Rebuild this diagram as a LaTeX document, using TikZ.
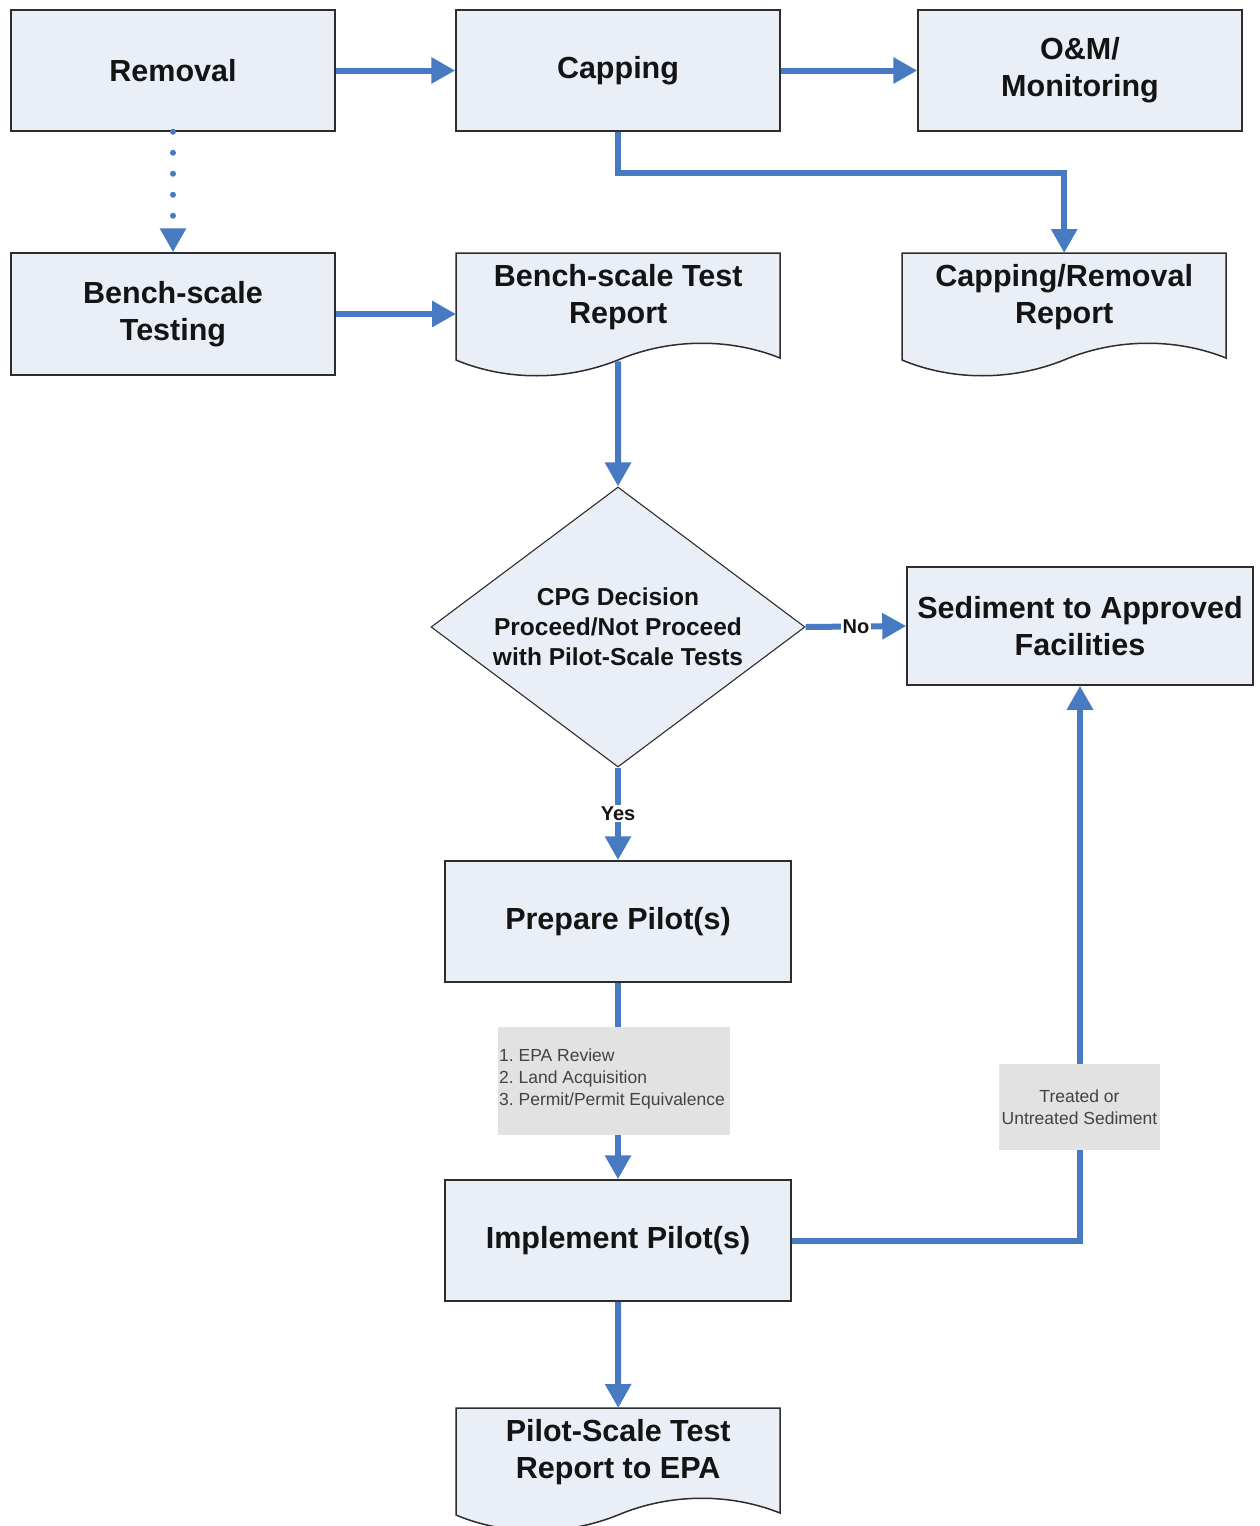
\documentclass[tikz,border=0pt]{standalone}
\usepackage{fontspec}
\setmainfont{Liberation Sans}
\usetikzlibrary{arrows.meta,shapes.geometric,backgrounds,calc}
\definecolor{boxfill}{RGB}{233,238,247}
\definecolor{boxline}{RGB}{45,45,45}
\definecolor{flow}{RGB}{72,122,194}
\definecolor{notefill}{RGB}{226,226,226}
\definecolor{txt}{RGB}{20,20,20}
\newcommand\mydocwave[1]{\path[draw=boxline, fill=boxfill, line width=1.5pt, shift={(#1.north west)}] (0,0) -- (324,0) -- (324,105) .. controls (274,85) and (214,85) .. (162,107) .. controls (110,128) and (50,128) .. (0,107) -- cycle;}
\begin{document}
\frenchspacing
\begin{tikzpicture}[x=1pt,y=-1pt,
  proc/.style={draw=boxline, fill=boxfill, line width=1.5pt, minimum width=324pt, minimum height=121pt, align=center, inner sep=0pt, text=txt, font=\bfseries\fontsize{30.5}{37}\selectfont},
  docnode/.style={minimum width=324pt, minimum height=88pt, align=center, inner sep=0pt, text=txt, anchor=north west, font=\bfseries\fontsize{30.5}{37}\selectfont},
  decision/.style={diamond, draw=boxline, fill=boxfill, line width=1.1pt, aspect=1.336, minimum width=374pt, minimum height=280pt, inner sep=0pt, align=center, text=txt, font=\bfseries\fontsize{24.5}{30}\selectfont},
  note/.style={fill=notefill, inner sep=0pt, text=txt!80, font=\fontsize{17.5}{22}\selectfont},
  flowline/.style={draw=flow, line width=6pt, -{Triangle[length=24pt,width=25pt]}},
  dotline/.style={draw=flow, line width=6pt, line cap=round, dash pattern=on 0pt off 21pt, -{Triangle[length=24pt,width=25pt]}},
  lbl/.style={fill=white, inner sep=1.5pt, text=txt, font=\bfseries\fontsize{20}{22}\selectfont}
]
\useasboundingbox (0,0) rectangle (1259,1526);

% process boxes
\node[proc] (removal) at (173,70.5) {Removal};
\node[proc] (capping) at (618,70.5) {Capping};
\node[proc] (om) at (1080,70.5) {O\&M/\\Monitoring};
\node[proc, minimum height=122pt] (bench) at (173,314) {Bench-scale\\Testing};
\node[proc, minimum width=346pt, minimum height=118pt] (sed) at (1080,626) {Sediment to Approved\\Facilities};
\node[proc, minimum width=346pt] (prep) at (618,921.5) {Prepare Pilot(s)};
\node[proc, minimum width=346pt] (impl) at (618,1240.5) {Implement Pilot(s)};

% documents
\node[docnode] (brep) at (456,253) {Bench-scale Test\\Report};
\node[docnode] (crrep) at (902,253) {Capping/Removal\\Report};
\node[docnode] (prep2) at (456,1408) {Pilot-Scale Test\\Report to EPA};
\begin{scope}[on background layer]
\mydocwave{brep}
\mydocwave{crrep}
\mydocwave{prep2}
\end{scope}

% decision
\node[decision] (dec) at (618,627) {CPG Decision\\Proceed/Not Proceed\\with Pilot-Scale Tests};

% notes
\node[note, minimum width=232pt, minimum height=108pt] (note1) at (614,1081) {};
\node[anchor=west, inner sep=0pt, align=left, text=txt!80, font=\fontsize{17.5}{22}\selectfont] (note1txt) at (499,1079) {1. EPA Review\\2. Land Acquisition\\3. Permit/Permit Equivalence};
\node[note, minimum width=161pt, minimum height=86pt, align=center] (note2) at (1079.5,1107) {Treated or\\Untreated Sediment};

% connectors
\draw[flowline] (removal.east) -- (capping.west);
\draw[flowline] (capping.east) -- (om.west);
\draw[flowline] (capping.south) -- ++(0,41) -| (crrep.north);
\draw[dotline] (removal.south) -- (bench.north);
\draw[flowline] (bench.east) -- (bench.east -| brep.west);
\draw[flowline] ([yshift=-20pt]brep.south) -- (dec.north);
\draw[flowline] (dec.east) -- node[lbl] {No} (sed.west);
\draw[flowline] (dec.south) -- node[lbl] {Yes} (prep.north);
\draw[flowline] (impl.south) -- (prep2.north);
\begin{scope}[on background layer]
\draw[flowline] (prep.south) -- (impl.north);
\draw[flowline] (impl.east) -| (sed.south);
\end{scope}
\end{tikzpicture}
\end{document}
